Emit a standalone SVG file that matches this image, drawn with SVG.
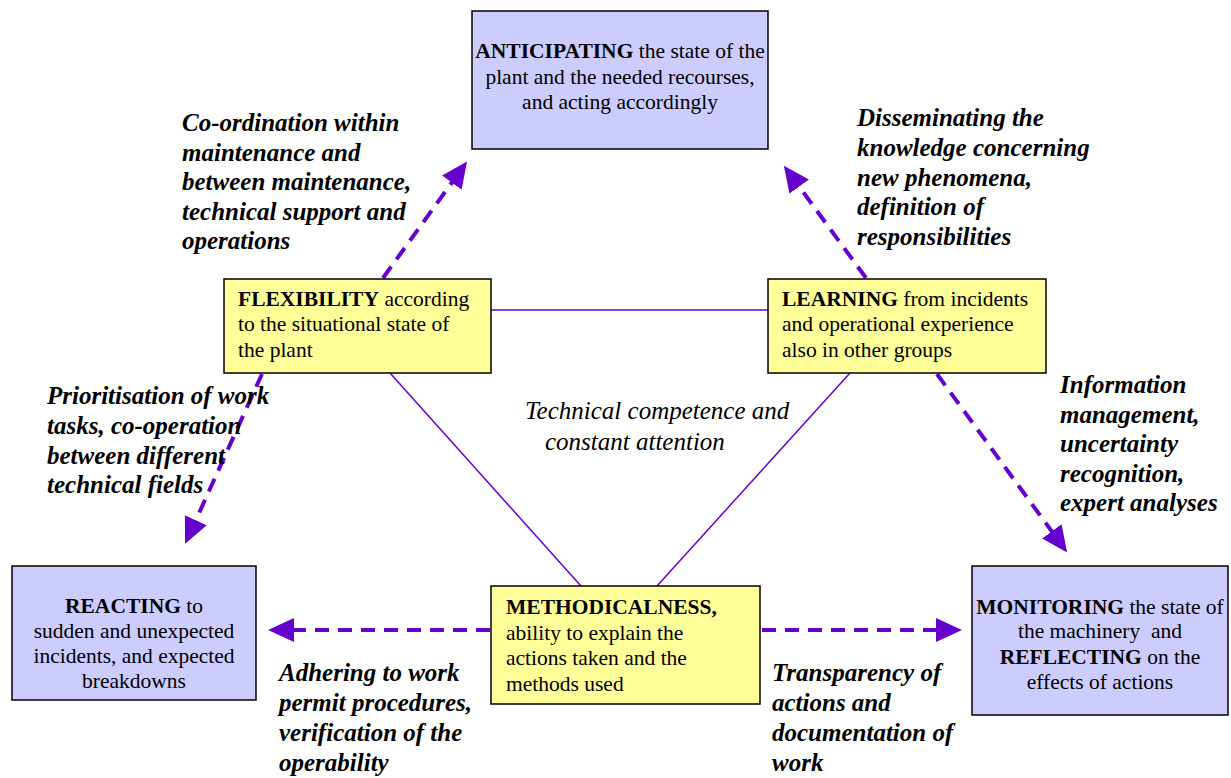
<svg xmlns="http://www.w3.org/2000/svg" width="1231" height="778" viewBox="0 0 1231 778">
<style>
.blue{fill:#ccccff;stroke:#000;stroke-width:1.5}
.yel{fill:#ffff99;stroke:#000;stroke-width:1.5}
.t{font-family:"Liberation Serif",serif;font-size:21.5px;fill:#000}
.b{font-weight:bold}
.lab{font-family:"Liberation Serif",serif;font-size:25px;font-weight:bold;font-style:italic;fill:#000}
.ctr{font-family:"Liberation Serif",serif;font-size:25px;font-style:italic;fill:#000}
.sol{stroke:#6600cc;stroke-width:1.5;fill:none}
.dash{stroke:#6600cc;stroke-width:4;fill:none;stroke-dasharray:14,9}
</style>
<defs>
<marker id="ahb" markerWidth="26" markerHeight="24" refX="2" refY="12" orient="auto" markerUnits="userSpaceOnUse" viewBox="0 0 26 24">
<path d="M0,0 L26,12 L0,24 z" fill="#6600cc"/>
</marker>
</defs>
<g id="connectors">
<line class="sol" x1="491" y1="310" x2="768" y2="310"/>
<line class="sol" x1="390" y1="373" x2="581" y2="586"/>
<line class="sol" x1="850" y1="373" x2="657" y2="586"/>
<line class="dash" x1="383" y1="278" x2="453" y2="181" marker-end="url(#ahb)"/>
<line class="dash" x1="866" y1="278" x2="798" y2="185" marker-end="url(#ahb)"/>
<line class="dash" x1="262" y1="374" x2="195" y2="522" marker-end="url(#ahb)"/>
<line class="dash" x1="937" y1="374" x2="1053" y2="533" marker-end="url(#ahb)"/>
<line class="dash" x1="490" y1="630" x2="292" y2="630" marker-end="url(#ahb)"/>
<line class="dash" x1="762" y1="630" x2="938" y2="630" marker-end="url(#ahb)"/>
</g>
<g id="anticipating">
<rect class="blue" x="472" y="11" width="296" height="138"/>
<text class="t" text-anchor="middle" x="620" y="58"><tspan class="b">ANTICIPATING</tspan> the state of the</text>
<text class="t" text-anchor="middle" x="620" y="84">plant and the needed recourses,</text>
<text class="t" text-anchor="middle" x="620" y="109">and acting accordingly</text>
</g>
<g id="flexibility">
<rect class="yel" x="224" y="279" width="267" height="94"/>
<text class="t" x="238" y="306"><tspan class="b">FLEXIBILITY</tspan> according</text>
<text class="t" x="238" y="331">to the situational state of</text>
<text class="t" x="238" y="357">the plant</text>
</g>
<g id="learning">
<rect class="yel" x="768" y="279" width="278" height="94"/>
<text class="t" x="782" y="306"><tspan class="b">LEARNING</tspan> from incidents</text>
<text class="t" x="782" y="331">and operational experience</text>
<text class="t" x="782" y="357">also in other groups</text>
</g>
<g id="methodicalness">
<rect class="yel" x="491" y="586" width="269" height="118"/>
<text class="t" x="506" y="614"><tspan class="b">METHODICALNESS,</tspan></text>
<text class="t" x="506" y="640">ability to explain the</text>
<text class="t" x="506" y="665">actions taken and the</text>
<text class="t" x="506" y="691">methods used</text>
</g>
<g id="reacting">
<rect class="blue" x="12" y="566" width="244" height="134"/>
<text class="t" text-anchor="middle" x="134" y="613"><tspan class="b">REACTING</tspan> to</text>
<text class="t" text-anchor="middle" x="134" y="638">sudden and unexpected</text>
<text class="t" text-anchor="middle" x="134" y="663">incidents, and expected</text>
<text class="t" text-anchor="middle" x="134" y="688">breakdowns</text>
</g>
<g id="monitoring">
<rect class="blue" x="972" y="566" width="256" height="149"/>
<text class="t" text-anchor="middle" x="1100" y="614"><tspan class="b">MONITORING</tspan> the state of</text>
<text class="t" text-anchor="middle" x="1100" y="638" style="white-space:pre">the machinery  and</text>
<text class="t" text-anchor="middle" x="1100" y="664"><tspan class="b">REFLECTING</tspan> on the</text>
<text class="t" text-anchor="middle" x="1100" y="689">effects of actions</text>
</g>
<g id="labels">
<text class="lab" x="182" y="131">Co-ordination within</text>
<text class="lab" x="182" y="161">maintenance and</text>
<text class="lab" x="182" y="190">between maintenance,</text>
<text class="lab" x="182" y="220">technical support and</text>
<text class="lab" x="182" y="249">operations</text>
<text class="lab" x="857" y="126">Disseminating the</text>
<text class="lab" x="857" y="156">knowledge concerning</text>
<text class="lab" x="857" y="186">new phenomena,</text>
<text class="lab" x="857" y="215">definition of</text>
<text class="lab" x="857" y="245">responsibilities</text>
<text class="lab" x="47" y="404">Prioritisation of work</text>
<text class="lab" x="47" y="434">tasks, co-operation</text>
<text class="lab" x="47" y="464">between different</text>
<text class="lab" x="47" y="493">technical fields</text>
<text class="lab" x="1060" y="393">Information</text>
<text class="lab" x="1060" y="423">management,</text>
<text class="lab" x="1060" y="452">uncertainty</text>
<text class="lab" x="1060" y="482">recognition,</text>
<text class="lab" x="1060" y="511">expert analyses</text>
<text class="lab" x="279" y="681">Adhering to work</text>
<text class="lab" x="279" y="711">permit procedures,</text>
<text class="lab" x="279" y="741">verification of the</text>
<text class="lab" x="279" y="771">operability</text>
<text class="lab" x="772" y="681">Transparency of</text>
<text class="lab" x="772" y="711">actions and</text>
<text class="lab" x="772" y="741">documentation of</text>
<text class="lab" x="772" y="771">work</text>
<text class="ctr" x="525" y="419">Technical competence and</text>
<text class="ctr" x="545" y="450">constant attention</text>
</g>
</svg>
